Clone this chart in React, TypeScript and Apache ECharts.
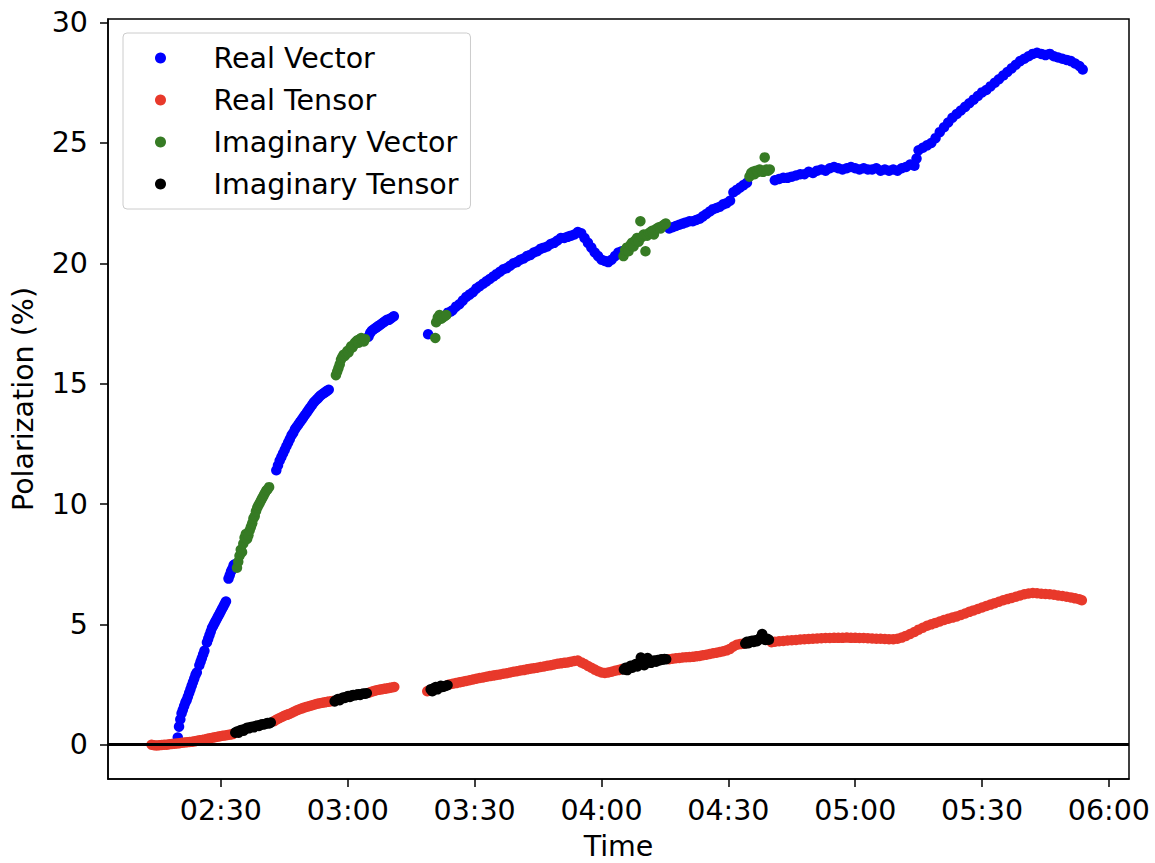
import * as echarts from 'echarts';
import { useEffect, useRef } from 'react';

// time is in minutes after midnight, value is polarization in %
const realVector = [
  [139.8, 0.3], [140.1, 0.75], [140.4, 1.05], [140.7, 1.3], [141.0, 1.45], [141.3, 1.6], [141.6, 1.75],
  [141.9, 1.85], [142.2, 2.0], [142.5, 2.15], [142.8, 2.3], [143.1, 2.45], [143.4, 2.6], [143.7, 2.75],
  [144.0, 2.9], [144.3, 3.0],
  [144.9, 3.3], [145.2, 3.45], [145.5, 3.6], [145.8, 3.75], [146.1, 3.9],
  [146.7, 4.25], [147.0, 4.4], [147.3, 4.55], [147.6, 4.7], [147.9, 4.85], [148.2, 4.95], [148.5, 5.05],
  [148.8, 5.15], [149.1, 5.25], [149.4, 5.35], [149.7, 5.45], [150.0, 5.55], [150.3, 5.65], [150.6, 5.75],
  [150.9, 5.85], [151.2, 5.95],
  [151.8, 6.9], [152.1, 7.05], [152.4, 7.2], [152.7, 7.3], [153.0, 7.45], [153.3, 7.5],
  [163.1, 11.4], [163.5, 11.6], [163.9, 11.8], [164.3, 11.95], [164.7, 12.1], [165.1, 12.25], [165.5, 12.4],
  [165.9, 12.55], [166.3, 12.7], [166.7, 12.85], [167.1, 12.95], [167.5, 13.1], [167.9, 13.2], [168.3, 13.3],
  [168.7, 13.4], [169.1, 13.5], [169.5, 13.6], [169.9, 13.7], [170.3, 13.8], [170.7, 13.9], [171.1, 14.0],
  [171.5, 14.1], [171.9, 14.2], [172.3, 14.28], [172.7, 14.35], [173.1, 14.42], [173.5, 14.5], [173.9, 14.55],
  [174.3, 14.6], [174.7, 14.65], [175.1, 14.7], [175.5, 14.75],
  [184.9, 16.95], [185.3, 17.1], [185.7, 17.2], [186.1, 17.25], [186.5, 17.3], [186.9, 17.35], [187.3, 17.4],
  [187.7, 17.45], [188.1, 17.5], [188.5, 17.55], [188.9, 17.6], [189.3, 17.65], [189.7, 17.65], [190.1, 17.7],
  [190.5, 17.75], [190.9, 17.8],
  [199.0, 17.05],
  [203.7, 17.95], [204.4, 18.0], [204.8, 18.05], [205.6, 18.2], [206.4, 18.3], [207.2, 18.45], [208.0, 18.6],
  [208.8, 18.7], [209.6, 18.8], [210.4, 18.95], [211.2, 19.05], [212.0, 19.15], [212.8, 19.25], [213.6, 19.35],
  [214.4, 19.45], [215.2, 19.55], [216.0, 19.65], [216.8, 19.75], [217.6, 19.8], [218.4, 19.9], [219.2, 20.0],
  [220.0, 20.05], [220.8, 20.15], [221.6, 20.2], [222.4, 20.3], [223.2, 20.35], [224.0, 20.45], [224.8, 20.5],
  [225.6, 20.6], [226.4, 20.65], [227.2, 20.7], [228.0, 20.8], [228.8, 20.85], [229.6, 20.95], [230.4, 21.05],
  [231.2, 21.05], [232.0, 21.1], [232.8, 21.15], [233.6, 21.2], [234.4, 21.3], [235.2, 21.25], [236.0, 21.05],
  [236.8, 20.85], [237.6, 20.65], [238.4, 20.45], [239.2, 20.3], [240.0, 20.15], [240.8, 20.1], [241.6, 20.05],
  [242.4, 20.15], [243.2, 20.3], [244.0, 20.45], [244.8, 20.5],
  [256.0, 21.45], [256.8, 21.5], [257.6, 21.55], [258.4, 21.6], [259.2, 21.65], [260.0, 21.7], [260.8, 21.75],
  [261.6, 21.75], [262.4, 21.8], [263.2, 21.85], [264.0, 21.95], [264.8, 22.05], [265.6, 22.15], [266.4, 22.25],
  [267.2, 22.3], [268.0, 22.35], [268.8, 22.45], [269.6, 22.5], [270.4, 22.6], [271.2, 22.95], [272.0, 23.05],
  [272.8, 23.15], [273.6, 23.25], [274.4, 23.35],
  [281.0, 23.45], [282.0, 23.5], [283.0, 23.55], [284.0, 23.55], [285.0, 23.6], [286.0, 23.65], [287.0, 23.7],
  [288.0, 23.7], [289.0, 23.8], [290.0, 23.75], [291.0, 23.85], [292.0, 23.9], [293.0, 23.85], [294.0, 23.95],
  [295.0, 24.0], [296.0, 23.95], [297.0, 23.9], [298.0, 23.95], [299.0, 24.0], [300.0, 23.95], [301.0, 23.9],
  [302.0, 23.95], [303.0, 23.9], [304.0, 23.9], [305.0, 23.95], [306.0, 23.85], [307.0, 23.9], [308.0, 23.85],
  [309.0, 23.9], [310.0, 23.85], [311.0, 23.95], [312.0, 24.0], [313.0, 24.1], [314.0, 24.05], [314.5, 24.35],
  [315.0, 24.7], [316.0, 24.8], [317.0, 24.9], [318.0, 25.0], [319.0, 25.2], [320.0, 25.45], [321.0, 25.65],
  [322.0, 25.85], [323.0, 26.05], [324.0, 26.2], [325.0, 26.35], [326.0, 26.5], [327.0, 26.65], [328.0, 26.8],
  [329.0, 26.95], [330.0, 27.1], [331.0, 27.2], [332.0, 27.35], [333.0, 27.5], [334.0, 27.65], [335.0, 27.8],
  [336.0, 27.95], [337.0, 28.1], [338.0, 28.25], [339.0, 28.4], [340.0, 28.5], [341.0, 28.6], [342.0, 28.7],
  [343.0, 28.75], [344.0, 28.7], [345.0, 28.65], [346.0, 28.7], [347.0, 28.6], [348.0, 28.55], [349.0, 28.5],
  [350.0, 28.45], [351.0, 28.4], [352.0, 28.3], [353.0, 28.2], [353.8, 28.05],
];

const imagVector = [
  [153.8, 7.35], [154.1, 7.6], [154.4, 7.85], [154.7, 8.1], [155.0, 8.0], [155.3, 8.35], [155.6, 8.6],
  [155.9, 8.75], [156.2, 8.55], [156.5, 8.7], [156.8, 8.9], [157.1, 9.05], [157.4, 9.2], [157.7, 9.4],
  [158.0, 9.5], [158.3, 9.7], [158.6, 9.85], [158.9, 9.95], [159.2, 10.05], [159.5, 10.15], [159.8, 10.25],
  [160.1, 10.35], [160.4, 10.45], [160.7, 10.55], [161.0, 10.6], [161.4, 10.7],
  [177.2, 15.35], [177.5, 15.5], [177.8, 15.65], [178.1, 15.8], [178.4, 16.0], [178.7, 16.1], [179.0, 16.2],
  [179.3, 16.15], [179.6, 16.25], [179.9, 16.35], [180.2, 16.3], [180.5, 16.45], [180.8, 16.55], [181.1, 16.5],
  [181.4, 16.6], [181.7, 16.7], [182.0, 16.75], [182.3, 16.8], [182.6, 16.7], [182.9, 16.85], [183.2, 16.9],
  [183.5, 16.8], [183.8, 16.75], [184.1, 16.85],
  [200.7, 16.9], [200.9, 17.55], [201.3, 17.75], [201.7, 17.85], [202.1, 17.7], [202.5, 17.75], [202.9, 17.8],
  [203.3, 17.85],
  [245.2, 20.3], [245.6, 20.55], [246.0, 20.65], [246.4, 20.5], [246.8, 20.75], [247.2, 20.85], [247.6, 20.7],
  [248.0, 20.95], [248.4, 21.05], [248.8, 20.9], [249.2, 21.75], [249.6, 21.1], [250.0, 21.2], [250.4, 20.5],
  [250.8, 21.15], [251.2, 21.25], [251.6, 21.3], [252.0, 21.35], [252.4, 21.2], [252.8, 21.4], [253.2, 21.45],
  [253.6, 21.5], [254.0, 21.45], [254.4, 21.55], [254.8, 21.6], [255.2, 21.65],
  [275.0, 23.6], [275.4, 23.75], [275.8, 23.8], [276.2, 23.7], [276.6, 23.85], [277.0, 23.8], [277.4, 23.9],
  [277.8, 23.85], [278.2, 23.8], [278.6, 24.4], [279.0, 23.9], [279.4, 23.85], [279.8, 23.9],
];

const realTensor = [
  [133.6, 0.0], [134.2, -0.02], [134.8, -0.03], [135.4, -0.02], [136.0, -0.01], [136.6, 0.0], [137.2, 0.0],
  [137.8, 0.02], [138.4, 0.03], [139.0, 0.04], [139.6, 0.05], [140.2, 0.06], [140.8, 0.08], [141.4, 0.09],
  [142.0, 0.1], [142.6, 0.11], [143.2, 0.12], [143.8, 0.14], [144.4, 0.16], [145.0, 0.18], [145.6, 0.2],
  [146.2, 0.22], [146.8, 0.25], [147.4, 0.27], [148.0, 0.29], [148.6, 0.31], [149.2, 0.33], [149.8, 0.35],
  [150.4, 0.37], [151.0, 0.38], [151.6, 0.4], [152.2, 0.42], [152.8, 0.44],
  [162.6, 0.98], [163.2, 1.05], [163.8, 1.1], [164.4, 1.15], [165.0, 1.2], [165.6, 1.24], [166.2, 1.28],
  [166.8, 1.33], [167.4, 1.38], [168.0, 1.43], [168.6, 1.47], [169.2, 1.51], [169.8, 1.55], [170.4, 1.58],
  [171.0, 1.61], [171.6, 1.64], [172.2, 1.67], [172.8, 1.7], [173.4, 1.72], [174.0, 1.74], [174.6, 1.76],
  [175.2, 1.78], [175.8, 1.8], [176.4, 1.82],
  [185.0, 2.16], [185.6, 2.2], [186.2, 2.23], [186.8, 2.26], [187.4, 2.28], [188.0, 2.3], [188.6, 2.32],
  [189.2, 2.34], [189.8, 2.36], [190.4, 2.38], [191.0, 2.4],
  [198.8, 2.22], [199.2, 2.25],
  [204.0, 2.5], [204.8, 2.53], [205.6, 2.56], [206.4, 2.59], [207.2, 2.62], [208.0, 2.65], [208.8, 2.68],
  [209.6, 2.71], [210.4, 2.74], [211.2, 2.77], [212.0, 2.79], [212.8, 2.82], [213.6, 2.85], [214.4, 2.87],
  [215.2, 2.9], [216.0, 2.92], [216.8, 2.95], [217.6, 2.97], [218.4, 3.0], [219.2, 3.03], [220.0, 3.05],
  [220.8, 3.08], [221.6, 3.1], [222.4, 3.13], [223.2, 3.16], [224.0, 3.18], [224.8, 3.2], [225.6, 3.23],
  [226.4, 3.25], [227.2, 3.28], [228.0, 3.3], [228.8, 3.33], [229.6, 3.36], [230.4, 3.38], [231.2, 3.4],
  [232.0, 3.42], [232.8, 3.45], [233.6, 3.48], [234.4, 3.5], [235.2, 3.42], [236.0, 3.35], [236.8, 3.27],
  [237.6, 3.2], [238.4, 3.12], [239.2, 3.05], [240.0, 3.0], [240.8, 2.98], [241.6, 3.0], [242.4, 3.03],
  [243.2, 3.07], [244.0, 3.1], [244.8, 3.14],
  [256.0, 3.55], [256.8, 3.57], [257.6, 3.59], [258.4, 3.6], [259.2, 3.62], [260.0, 3.63], [260.8, 3.64],
  [261.6, 3.65], [262.4, 3.67], [263.2, 3.69], [264.0, 3.72], [264.8, 3.74], [265.6, 3.77], [266.4, 3.8],
  [267.2, 3.82], [268.0, 3.85], [268.8, 3.88], [269.6, 3.92], [270.4, 3.98], [271.2, 4.08], [272.0, 4.15],
  [272.8, 4.18], [273.6, 4.2],
  [280.2, 4.26], [281.0, 4.28], [282.0, 4.3], [283.0, 4.31], [284.0, 4.33], [285.0, 4.34], [286.0, 4.35],
  [287.0, 4.37], [288.0, 4.38], [289.0, 4.39], [290.0, 4.4], [291.0, 4.41], [292.0, 4.42], [293.0, 4.43],
  [294.0, 4.43], [295.0, 4.44], [296.0, 4.44], [297.0, 4.44], [298.0, 4.45], [299.0, 4.44], [300.0, 4.44],
  [301.0, 4.43], [302.0, 4.43], [303.0, 4.42], [304.0, 4.41], [305.0, 4.4], [306.0, 4.4], [307.0, 4.39],
  [308.0, 4.38], [309.0, 4.38], [310.0, 4.4], [311.0, 4.45], [312.0, 4.52], [313.0, 4.6], [314.0, 4.68],
  [315.0, 4.78], [316.0, 4.86], [317.0, 4.94], [318.0, 5.0], [319.0, 5.06], [320.0, 5.12], [321.0, 5.18],
  [322.0, 5.23], [323.0, 5.28], [324.0, 5.33], [325.0, 5.39], [326.0, 5.45], [327.0, 5.52], [328.0, 5.58],
  [329.0, 5.64], [330.0, 5.7], [331.0, 5.76], [332.0, 5.82], [333.0, 5.88], [334.0, 5.94], [335.0, 6.0],
  [336.0, 6.05], [337.0, 6.1], [338.0, 6.15], [339.0, 6.2], [340.0, 6.25], [341.0, 6.28], [342.0, 6.3],
  [343.0, 6.29], [344.0, 6.27], [345.0, 6.26], [346.0, 6.25], [347.0, 6.23], [348.0, 6.2], [349.0, 6.18],
  [350.0, 6.15], [351.0, 6.12], [352.0, 6.08], [353.0, 6.04], [353.6, 6.0],
];

const imagTensor = [
  [153.4, 0.5], [153.8, 0.55], [154.2, 0.5], [154.6, 0.6], [155.0, 0.62], [155.4, 0.58], [155.8, 0.66],
  [156.2, 0.7], [156.6, 0.68], [157.0, 0.73], [157.4, 0.75], [157.8, 0.72], [158.2, 0.78], [158.6, 0.8],
  [159.0, 0.78], [159.4, 0.83], [159.8, 0.85], [160.2, 0.84], [160.6, 0.87], [161.0, 0.9], [161.4, 0.88],
  [161.8, 0.92],
  [176.9, 1.8], [177.3, 1.86], [177.7, 1.9], [178.1, 1.85], [178.5, 1.92], [178.9, 1.96], [179.3, 1.94],
  [179.7, 1.99], [180.1, 2.02], [180.5, 1.98], [180.9, 2.04], [181.3, 2.06], [181.7, 2.05], [182.1, 2.08],
  [182.5, 2.1], [182.9, 2.07], [183.3, 2.11], [183.7, 2.13], [184.1, 2.12], [184.5, 2.14],
  [199.6, 2.3], [200.0, 2.22], [200.4, 2.35], [200.8, 2.4], [201.2, 2.3], [201.6, 2.38], [202.0, 2.45],
  [202.4, 2.4], [202.8, 2.42], [203.2, 2.45], [203.6, 2.47],
  [245.3, 3.12], [245.7, 3.2], [246.1, 3.1], [246.5, 3.22], [246.9, 3.28], [247.3, 3.2], [247.7, 3.3],
  [248.1, 3.35], [248.5, 3.25], [248.9, 3.38], [249.3, 3.62], [249.7, 3.4], [250.1, 3.3], [250.5, 3.42],
  [250.9, 3.6], [251.3, 3.45], [251.7, 3.4], [252.1, 3.48], [252.5, 3.5], [252.9, 3.45], [253.3, 3.52],
  [253.7, 3.5], [254.1, 3.55], [254.5, 3.53], [254.9, 3.56], [255.3, 3.55],
  [274.0, 4.2], [274.4, 4.28], [274.8, 4.22], [275.2, 4.3], [275.6, 4.32], [276.0, 4.27], [276.4, 4.34],
  [276.8, 4.3], [277.2, 4.36], [277.6, 4.45], [278.0, 4.6], [278.4, 4.38], [278.8, 4.35], [279.2, 4.4],
  [279.6, 4.36],
];

const xTicks = [150, 180, 210, 240, 270, 300, 330, 360];
const yTicks = [0, 5, 10, 15, 20, 25, 30];

const FONT = 'DejaVu Sans';
const FS = 28.5;

const fmtTime = (m: number) => {
  const h = Math.floor(m / 60);
  const mm = Math.round(m - h * 60);
  return String(h).padStart(2, '0') + ':' + String(mm).padStart(2, '0');
};

const App = () => {
  const chartRef = useRef<HTMLDivElement>(null);

  useEffect(() => {
    document.body.style.margin = '0';
    const chart = echarts.init(chartRef.current, null, { renderer: 'svg' });

    const dot = (name: string, color: string, data: number[][], extra = {}) => ({
      name,
      type: 'scatter',
      data,
      symbol: 'circle',
      symbolSize: 10.5,
      itemStyle: { color, opacity: 1 },
      ...extra,
    });

    chart.setOption({
      animation: false,
      grid: {
        left: 108,
        right: 26,
        top: 19,
        bottom: 84,
        outerBoundsMode: 'none',
        show: true,
        borderColor: '#000',
        borderWidth: 1.5,
      },
      legend: {
        orient: 'vertical',
        left: 123,
        top: 33,
        icon: 'circle',
        itemWidth: 16,
        itemHeight: 11,
        itemGap: 12,
        padding: [10, 12, 10, 32],
        backgroundColor: 'rgba(255,255,255,0.8)',
        borderColor: '#cccccc',
        borderWidth: 1,
        borderRadius: 4,
        textStyle: {
          fontFamily: FONT,
          fontSize: FS,
          color: '#000',
          lineHeight: 30,
          padding: [0, 0, 0, 40],
        },
        data: ['Real Vector', 'Real Tensor', 'Imaginary Vector', 'Imaginary Tensor'],
      },
      xAxis: {
        type: 'value',
        min: 123.3,
        max: 364.75,
        name: 'Time',
        nameLocation: 'middle',
        nameGap: 56,
        nameTextStyle: { fontFamily: FONT, fontSize: FS, color: '#000', lineHeight: 22 },
        splitLine: { show: false },
        axisLine: { show: true, onZero: false, lineStyle: { color: '#000', width: 1.5 } },
        axisTick: { show: true, length: 8, customValues: xTicks, lineStyle: { color: '#000', width: 1.5 } },
        axisLabel: {
          customValues: xTicks,
          formatter: (v: number) => fmtTime(v),
          fontFamily: FONT,
          fontSize: FS,
          color: '#000',
          margin: 17,
        },
      },
      yAxis: {
        type: 'value',
        min: -1.425,
        max: 30.15,
        name: 'Polarization (%)',
        nameLocation: 'middle',
        nameGap: 70,
        nameTextStyle: { fontFamily: FONT, fontSize: FS, color: '#000' },
        splitLine: { show: false },
        axisLine: { show: true, onZero: false, lineStyle: { color: '#000', width: 1.5 } },
        axisTick: { show: true, length: 8, customValues: yTicks, lineStyle: { color: '#000', width: 1.5 } },
        axisLabel: {
          customValues: yTicks,
          formatter: (v: number) => String(Math.round(v)),
          fontFamily: FONT,
          fontSize: FS,
          color: '#000',
          margin: 20,
        },
      },
      series: [
        dot('Real Vector', '#0000ff', realVector, {
          markLine: {
            silent: true,
            symbol: 'none',
            label: { show: false },
            lineStyle: { color: '#000', width: 3, type: 'solid' },
            data: [{ yAxis: 0 }],
          },
        }),
        dot('Real Tensor', '#e8392b', realTensor),
        dot('Imaginary Vector', '#367b24', imagVector),
        dot('Imaginary Tensor', '#000000', imagTensor),
      ],
    });

    return () => {
      chart.dispose();
    };
  }, []);

  return <div ref={chartRef} style={{ width: '1155px', height: '863px' }} />;
};

export default App;
